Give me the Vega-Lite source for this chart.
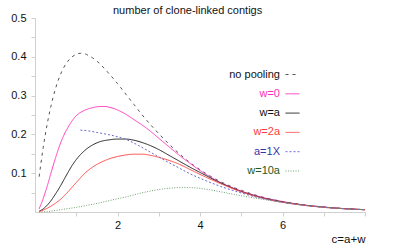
{
  "$schema": "https://vega.github.io/schema/vega-lite/v6.json",
  "width": 330,
  "height": 194,
  "autosize": {"type": "none"},
  "padding": {"left": 35, "top": 18, "right": 34, "bottom": 34},
  "background": "white",
  "config": {
    "font": "Liberation Sans",
    "view": {"stroke": null},
    "legend": {
      "orient": "none",
      "legendX": 250,
      "legendY": 49,
      "symbolType": "stroke",
      "symbolSize": 196,
      "symbolStrokeWidth": 1,
      "labelAlign": "right",
      "labelOffset": -20,
      "labelFontSize": 11,
      "labelFont": "Liberation Sans",
      "rowPadding": 6.3,
      "padding": 0
    }
  },
  "title": {
    "text": "number of clone-linked contigs",
    "anchor": "start",
    "frame": "group",
    "dx": 78,
    "dy": 4,
    "fontSize": 11,
    "fontWeight": "normal",
    "font": "Liberation Sans",
    "color": "#111",
    "offset": 0
  },
  "data": {
    "values": [
      {"s": "no pooling", "c": 0.1, "n": 0.091},
      {"s": "no pooling", "c": 0.2, "n": 0.167},
      {"s": "no pooling", "c": 0.3, "n": 0.229},
      {"s": "no pooling", "c": 0.4, "n": 0.279},
      {"s": "no pooling", "c": 0.5, "n": 0.319},
      {"s": "no pooling", "c": 0.6, "n": 0.35},
      {"s": "no pooling", "c": 0.7, "n": 0.373},
      {"s": "no pooling", "c": 0.8, "n": 0.389},
      {"s": "no pooling", "c": 0.9, "n": 0.4},
      {"s": "no pooling", "c": 1.0, "n": 0.4066},
      {"s": "no pooling", "c": 1.1, "n": 0.409},
      {"s": "no pooling", "c": 1.2, "n": 0.408},
      {"s": "no pooling", "c": 1.3, "n": 0.403},
      {"s": "no pooling", "c": 1.4, "n": 0.397},
      {"s": "no pooling", "c": 1.5, "n": 0.389},
      {"s": "no pooling", "c": 1.6, "n": 0.379},
      {"s": "no pooling", "c": 1.8, "n": 0.356},
      {"s": "no pooling", "c": 2.0, "n": 0.331},
      {"s": "no pooling", "c": 2.2, "n": 0.304},
      {"s": "no pooling", "c": 2.4, "n": 0.277},
      {"s": "no pooling", "c": 2.6, "n": 0.25},
      {"s": "no pooling", "c": 2.8, "n": 0.225},
      {"s": "no pooling", "c": 3.0, "n": 0.202},
      {"s": "no pooling", "c": 3.25, "n": 0.175},
      {"s": "no pooling", "c": 3.5, "n": 0.15},
      {"s": "no pooling", "c": 3.75, "n": 0.128},
      {"s": "no pooling", "c": 4.0, "n": 0.109},
      {"s": "no pooling", "c": 4.5, "n": 0.078},
      {"s": "no pooling", "c": 5.0, "n": 0.056},
      {"s": "no pooling", "c": 5.5, "n": 0.039},
      {"s": "no pooling", "c": 6.0, "n": 0.027},
      {"s": "no pooling", "c": 6.5, "n": 0.0187},
      {"s": "no pooling", "c": 7.0, "n": 0.0129},
      {"s": "no pooling", "c": 7.5, "n": 0.0088},
      {"s": "no pooling", "c": 8.0, "n": 0.006},

      {"s": "w=0", "c": 0.1, "n": 0.008},
      {"s": "w=0", "c": 0.2, "n": 0.035},
      {"s": "w=0", "c": 0.3, "n": 0.068},
      {"s": "w=0", "c": 0.4, "n": 0.105},
      {"s": "w=0", "c": 0.5, "n": 0.14},
      {"s": "w=0", "c": 0.6, "n": 0.172},
      {"s": "w=0", "c": 0.7, "n": 0.198},
      {"s": "w=0", "c": 0.8, "n": 0.218},
      {"s": "w=0", "c": 0.9, "n": 0.235},
      {"s": "w=0", "c": 1.0, "n": 0.248},
      {"s": "w=0", "c": 1.2, "n": 0.262},
      {"s": "w=0", "c": 1.4, "n": 0.269},
      {"s": "w=0", "c": 1.6, "n": 0.272},
      {"s": "w=0", "c": 1.7, "n": 0.272},
      {"s": "w=0", "c": 1.8, "n": 0.27},
      {"s": "w=0", "c": 2.0, "n": 0.263},
      {"s": "w=0", "c": 2.2, "n": 0.252},
      {"s": "w=0", "c": 2.4, "n": 0.238},
      {"s": "w=0", "c": 2.6, "n": 0.224},
      {"s": "w=0", "c": 2.8, "n": 0.208},
      {"s": "w=0", "c": 3.0, "n": 0.19},
      {"s": "w=0", "c": 3.25, "n": 0.168},
      {"s": "w=0", "c": 3.5, "n": 0.146},
      {"s": "w=0", "c": 3.75, "n": 0.126},
      {"s": "w=0", "c": 4.0, "n": 0.107},
      {"s": "w=0", "c": 4.5, "n": 0.076},
      {"s": "w=0", "c": 5.0, "n": 0.054},
      {"s": "w=0", "c": 5.5, "n": 0.038},
      {"s": "w=0", "c": 6.0, "n": 0.027},
      {"s": "w=0", "c": 6.5, "n": 0.0185},
      {"s": "w=0", "c": 7.0, "n": 0.0128},
      {"s": "w=0", "c": 7.5, "n": 0.0088},
      {"s": "w=0", "c": 8.0, "n": 0.006},

      {"s": "w=a", "c": 0.1, "n": 0.002},
      {"s": "w=a", "c": 0.2, "n": 0.008},
      {"s": "w=a", "c": 0.3, "n": 0.018},
      {"s": "w=a", "c": 0.4, "n": 0.031},
      {"s": "w=a", "c": 0.5, "n": 0.047},
      {"s": "w=a", "c": 0.6, "n": 0.064},
      {"s": "w=a", "c": 0.7, "n": 0.083},
      {"s": "w=a", "c": 0.8, "n": 0.102},
      {"s": "w=a", "c": 0.9, "n": 0.12},
      {"s": "w=a", "c": 1.0, "n": 0.135},
      {"s": "w=a", "c": 1.2, "n": 0.158},
      {"s": "w=a", "c": 1.4, "n": 0.173},
      {"s": "w=a", "c": 1.6, "n": 0.182},
      {"s": "w=a", "c": 1.8, "n": 0.186},
      {"s": "w=a", "c": 2.0, "n": 0.188},
      {"s": "w=a", "c": 2.2, "n": 0.188},
      {"s": "w=a", "c": 2.4, "n": 0.185},
      {"s": "w=a", "c": 2.6, "n": 0.179},
      {"s": "w=a", "c": 2.8, "n": 0.171},
      {"s": "w=a", "c": 3.0, "n": 0.161},
      {"s": "w=a", "c": 3.25, "n": 0.146},
      {"s": "w=a", "c": 3.5, "n": 0.131},
      {"s": "w=a", "c": 3.75, "n": 0.116},
      {"s": "w=a", "c": 4.0, "n": 0.102},
      {"s": "w=a", "c": 4.5, "n": 0.075},
      {"s": "w=a", "c": 5.0, "n": 0.053},
      {"s": "w=a", "c": 5.5, "n": 0.037},
      {"s": "w=a", "c": 6.0, "n": 0.026},
      {"s": "w=a", "c": 6.5, "n": 0.018},
      {"s": "w=a", "c": 7.0, "n": 0.0125},
      {"s": "w=a", "c": 7.5, "n": 0.0086},
      {"s": "w=a", "c": 8.0, "n": 0.006},

      {"s": "w=2a", "c": 0.1, "n": 0.001},
      {"s": "w=2a", "c": 0.2, "n": 0.005},
      {"s": "w=2a", "c": 0.3, "n": 0.01},
      {"s": "w=2a", "c": 0.4, "n": 0.016},
      {"s": "w=2a", "c": 0.5, "n": 0.023},
      {"s": "w=2a", "c": 0.6, "n": 0.031},
      {"s": "w=2a", "c": 0.7, "n": 0.041},
      {"s": "w=2a", "c": 0.8, "n": 0.052},
      {"s": "w=2a", "c": 0.9, "n": 0.064},
      {"s": "w=2a", "c": 1.0, "n": 0.076},
      {"s": "w=2a", "c": 1.2, "n": 0.099},
      {"s": "w=2a", "c": 1.4, "n": 0.116},
      {"s": "w=2a", "c": 1.6, "n": 0.128},
      {"s": "w=2a", "c": 1.8, "n": 0.137},
      {"s": "w=2a", "c": 2.0, "n": 0.143},
      {"s": "w=2a", "c": 2.2, "n": 0.147},
      {"s": "w=2a", "c": 2.4, "n": 0.149},
      {"s": "w=2a", "c": 2.6, "n": 0.149},
      {"s": "w=2a", "c": 2.8, "n": 0.146},
      {"s": "w=2a", "c": 3.0, "n": 0.141},
      {"s": "w=2a", "c": 3.25, "n": 0.133},
      {"s": "w=2a", "c": 3.5, "n": 0.123},
      {"s": "w=2a", "c": 3.75, "n": 0.11},
      {"s": "w=2a", "c": 4.0, "n": 0.097},
      {"s": "w=2a", "c": 4.5, "n": 0.073},
      {"s": "w=2a", "c": 5.0, "n": 0.052},
      {"s": "w=2a", "c": 5.5, "n": 0.036},
      {"s": "w=2a", "c": 6.0, "n": 0.025},
      {"s": "w=2a", "c": 6.5, "n": 0.0175},
      {"s": "w=2a", "c": 7.0, "n": 0.012},
      {"s": "w=2a", "c": 7.5, "n": 0.0084},
      {"s": "w=2a", "c": 8.0, "n": 0.0058},

      {"s": "a=1X", "c": 1.1, "n": 0.211},
      {"s": "a=1X", "c": 1.3, "n": 0.209},
      {"s": "a=1X", "c": 1.5, "n": 0.205},
      {"s": "a=1X", "c": 1.75, "n": 0.2},
      {"s": "a=1X", "c": 2.0, "n": 0.194},
      {"s": "a=1X", "c": 2.25, "n": 0.185},
      {"s": "a=1X", "c": 2.5, "n": 0.172},
      {"s": "a=1X", "c": 2.75, "n": 0.157},
      {"s": "a=1X", "c": 3.0, "n": 0.142},
      {"s": "a=1X", "c": 3.25, "n": 0.127},
      {"s": "a=1X", "c": 3.5, "n": 0.113},
      {"s": "a=1X", "c": 3.75, "n": 0.099},
      {"s": "a=1X", "c": 4.0, "n": 0.087},
      {"s": "a=1X", "c": 4.5, "n": 0.066},
      {"s": "a=1X", "c": 5.0, "n": 0.049},
      {"s": "a=1X", "c": 5.5, "n": 0.035},
      {"s": "a=1X", "c": 6.0, "n": 0.025},
      {"s": "a=1X", "c": 6.5, "n": 0.0175},
      {"s": "a=1X", "c": 7.0, "n": 0.012},
      {"s": "a=1X", "c": 7.5, "n": 0.0083},
      {"s": "a=1X", "c": 8.0, "n": 0.0057},

      {"s": "w=10a", "c": 0.1, "n": 0.0},
      {"s": "w=10a", "c": 0.3, "n": 0.001},
      {"s": "w=10a", "c": 0.5, "n": 0.004},
      {"s": "w=10a", "c": 0.75, "n": 0.008},
      {"s": "w=10a", "c": 1.0, "n": 0.012},
      {"s": "w=10a", "c": 1.25, "n": 0.017},
      {"s": "w=10a", "c": 1.5, "n": 0.022},
      {"s": "w=10a", "c": 1.75, "n": 0.028},
      {"s": "w=10a", "c": 2.0, "n": 0.034},
      {"s": "w=10a", "c": 2.25, "n": 0.04},
      {"s": "w=10a", "c": 2.5, "n": 0.047},
      {"s": "w=10a", "c": 2.75, "n": 0.053},
      {"s": "w=10a", "c": 3.0, "n": 0.058},
      {"s": "w=10a", "c": 3.25, "n": 0.061},
      {"s": "w=10a", "c": 3.5, "n": 0.063},
      {"s": "w=10a", "c": 3.75, "n": 0.063},
      {"s": "w=10a", "c": 4.0, "n": 0.061},
      {"s": "w=10a", "c": 4.25, "n": 0.057},
      {"s": "w=10a", "c": 4.5, "n": 0.052},
      {"s": "w=10a", "c": 4.75, "n": 0.047},
      {"s": "w=10a", "c": 5.0, "n": 0.042},
      {"s": "w=10a", "c": 5.5, "n": 0.033},
      {"s": "w=10a", "c": 6.0, "n": 0.025},
      {"s": "w=10a", "c": 6.5, "n": 0.018},
      {"s": "w=10a", "c": 7.0, "n": 0.0125},
      {"s": "w=10a", "c": 7.5, "n": 0.0085},
      {"s": "w=10a", "c": 8.0, "n": 0.0058}
    ]
  },
  "mark": {"type": "line", "strokeWidth": 1, "interpolate": "monotone"},
  "encoding": {
    "x": {
      "field": "c",
      "type": "quantitative",
      "scale": {"domain": [0, 8], "nice": false, "zero": false},
      "axis": {
        "values": [1, 2, 3, 4, 5, 6, 7, 8],
        "labelExpr": "(datum.value == 2 || datum.value == 4 || datum.value == 6) ? datum.label : ''",
        "grid": false,
        "domainColor": "#d0d0d0",
        "tickColor": "#d0d0d0",
        "tickSize": 4,
        "labelFontSize": 11,
        "labelColor": "#111111",
        "labelPadding": 3,
        "title": "c=a+w",
        "titleFontSize": 11.5,
        "titleFontWeight": "normal",
        "titleColor": "#111111",
        "titleAnchor": "end",
        "titlePadding": 3
      }
    },
    "y": {
      "field": "n",
      "type": "quantitative",
      "scale": {"domain": [0, 0.5], "nice": false},
      "axis": {
        "values": [0.05, 0.1, 0.15, 0.2, 0.25, 0.3, 0.35, 0.4, 0.45, 0.5],
        "format": ".1f",
        "labelExpr": "(abs(datum.value * 10 - round(datum.value * 10)) < 0.001) ? datum.label : ''",
        "grid": false,
        "domainColor": "#d0d0d0",
        "tickColor": "#d0d0d0",
        "tickSize": 4,
        "labelFontSize": 11,
        "labelColor": "#111111",
        "labelPadding": 5,
        "title": null
      }
    },
    "color": {
      "field": "s",
      "type": "nominal",
      "scale": {
        "domain": ["no pooling", "w=0", "w=a", "w=2a", "a=1X", "w=10a"],
        "range": ["#555555", "#ff3dc0", "#222222", "#ff4a4a", "#6a6ad0", "#6f9f6f"]
      },
      "legend": {
        "title": null,
        "encode": {
          "labels": {
            "update": {
              "fill": {"signal": "datum.value == 'w=0' ? '#ff2fb8' : datum.value == 'w=2a' ? '#ff3b3b' : datum.value == 'a=1X' ? '#3535a5' : datum.value == 'w=10a' ? '#1e5a1e' : '#111111'"}
            }
          }
        }
      }
    },
    "strokeDash": {
      "field": "s",
      "type": "nominal",
      "scale": {
        "domain": ["no pooling", "w=0", "w=a", "w=2a", "a=1X", "w=10a"],
        "range": [[3, 4], [1, 0], [1, 0], [1, 0], [2, 2], [1, 1.5]]
      },
      "legend": {"title": null}
    }
  }
}
